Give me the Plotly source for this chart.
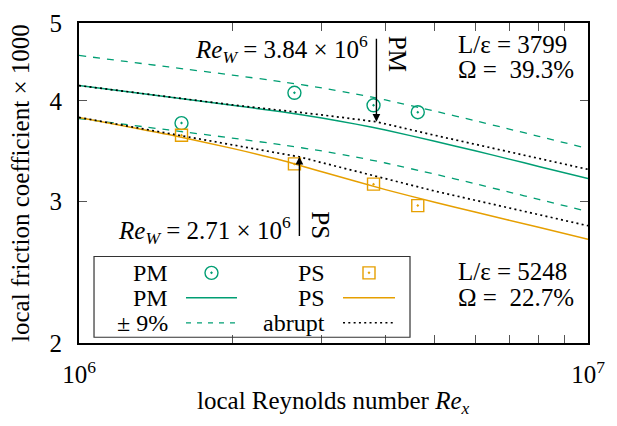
import math
import plotly.graph_objects as go

# ---- data -------------------------------------------------------------
# measured local skin friction (x1000) at four stations
re_meas = [1.59e6, 2.65e6, 3.79e6, 4.63e6]
cf_pm_meas = [3.754, 4.094, 3.950, 3.873]
cf_ps_meas = [3.626, 3.340, 3.152, 2.964]

# transitional-roughness model, PM side
re_pm_model = [1.0e6, 1.5e6, 2.0e6, 2.5e6, 3.0e6, 3.5e6, 4.0e6, 5.0e6, 6.0e6, 7.0e6, 8.0e6, 1.0e7]
cf_pm_model = [4.180, 4.045, 3.952, 3.877, 3.809, 3.743, 3.680, 3.564, 3.468, 3.386, 3.316, 3.202]

# transitional-roughness model, PS side
re_ps_model = [1.0e6, 1.5e6, 2.0e6, 2.5e6, 3.0e6, 4.0e6, 5.0e6, 6.0e6, 8.0e6, 1.0e7]
cf_ps_model = [3.816, 3.633, 3.492, 3.375, 3.266, 3.103, 2.993, 2.910, 2.786, 2.692]

# abrupt-transition model (kink at the wall Reynolds number)
re_pm_abrupt = [1.0e6, 1.5e6, 2.0e6, 3.0e6, 3.84e6, 5.0e6, 6.0e6, 8.0e6, 1.0e7]
cf_pm_abrupt = [4.180, 4.045, 3.955, 3.843, 3.768, 3.625, 3.534, 3.397, 3.288]
re_ps_abrupt = [1.0e6, 1.5e6, 2.0e6, 2.71e6, 3.0e6, 4.0e6, 5.0e6, 6.0e6, 8.0e6, 1.0e7]
cf_ps_abrupt = [3.816, 3.643, 3.528, 3.408, 3.352, 3.200, 3.090, 3.010, 2.889, 2.798]

band = 0.09  # +/- 9 % band around the PM model
re_w_pm, cf_w_pm = 3.84e6, 3.768
re_w_ps, cf_w_ps = 2.71e6, 3.408

x_ticks = [1e6 * k for k in range(1, 11)]
x_ticktext = ["10<sup>6</sup>"] + [""] * 8 + ["10<sup>7</sup>"]
y_ticks = [2, 3, 4, 5]

GREEN = "#009e73"
ORANGE = "#e69f00"
FONT = "Liberation Serif"
FS = 25
DASH = "7px,7px"
DOT = "2px,3.3px"

fig = go.Figure()

# +/- 9 % band
for fac in (1 + band, 1 - band):
    fig.add_trace(go.Scatter(x=re_pm_model, y=[c * fac for c in cf_pm_model], mode="lines",
                             line=dict(color=GREEN, width=1.3, dash=DASH,
                                       shape="spline", smoothing=0.6)))
# model curves
fig.add_trace(go.Scatter(x=re_pm_model, y=cf_pm_model, mode="lines",
                         line=dict(color=GREEN, width=1.5, shape="spline", smoothing=0.6)))
fig.add_trace(go.Scatter(x=re_ps_model, y=cf_ps_model, mode="lines",
                         line=dict(color=ORANGE, width=1.5, shape="spline", smoothing=0.6)))
# abrupt transition
for rx, cy in ((re_pm_abrupt, cf_pm_abrupt), (re_ps_abrupt, cf_ps_abrupt)):
    fig.add_trace(go.Scatter(x=rx, y=cy, mode="lines",
                             line=dict(color="black", width=1.7, dash=DOT)))
# measurements
fig.add_trace(go.Scatter(x=re_meas, y=cf_pm_meas, mode="markers",
                         marker=dict(symbol="circle-open-dot", size=13, color=GREEN,
                                     line=dict(color=GREEN, width=1.4))))
fig.add_trace(go.Scatter(x=re_meas, y=cf_ps_meas, mode="markers",
                         marker=dict(symbol="square-open-dot", size=12, color=ORANGE,
                                     line=dict(color=ORANGE, width=1.4))))

# ---- key (drawn on an overlay unit axis) -----------------------------
kx1 = [0.2102, 0.3104]
kx2 = [0.5187, 0.6208]
ky = [0.2192, 0.1411, 0.0631]
fig.add_trace(go.Scatter(x=[sum(kx1) / 2], y=[ky[0]], xaxis="x2", yaxis="y2", mode="markers",
                         marker=dict(symbol="circle-open-dot", size=13, color=GREEN,
                                     line=dict(color=GREEN, width=1.4))))
fig.add_trace(go.Scatter(x=kx1, y=[ky[1]] * 2, xaxis="x2", yaxis="y2", mode="lines",
                         line=dict(color=GREEN, width=1.5)))
fig.add_trace(go.Scatter(x=kx1, y=[ky[2]] * 2, xaxis="x2", yaxis="y2", mode="lines",
                         line=dict(color=GREEN, width=1.3, dash="5px,6px")))
fig.add_trace(go.Scatter(x=[sum(kx2) / 2], y=[ky[0]], xaxis="x2", yaxis="y2", mode="markers",
                         marker=dict(symbol="square-open-dot", size=12, color=ORANGE,
                                     line=dict(color=ORANGE, width=1.4))))
fig.add_trace(go.Scatter(x=kx2, y=[ky[1]] * 2, xaxis="x2", yaxis="y2", mode="lines",
                         line=dict(color=ORANGE, width=1.5)))
fig.add_trace(go.Scatter(x=kx2, y=[ky[2]] * 2, xaxis="x2", yaxis="y2", mode="lines",
                         line=dict(color="black", width=1.5, dash=DOT)))

fig.add_shape(type="rect", xref="paper", yref="paper", x0=0.0295, x1=0.6503, y0=0.018, y1=0.2703,
              line=dict(color="#333333", width=1.2), fillcolor="rgba(0,0,0,0)")

ann = []


def txt(x, y, s, xanchor="left", angle=0, size=FS):
    ann.append(dict(x=x, y=y, xref="paper", yref="paper", text=s, showarrow=False,
                    xanchor=xanchor, yanchor="middle", textangle=angle,
                    font=dict(family=FONT, size=size, color="black")))


for row, (a, b) in enumerate((("PM", "PS"), ("PM", "PS"), ("± 9%", "abrupt"))):
    txt(0.1788, ky[row], a, "right", size=24)
    txt(0.4872, ky[row], b, "right", size=24)

txt(0.5717, 0.919, "<i>Re</i><sub><i>W</i></sub> = 3.84 × 10<sup>6</sup>", "right")
txt(0.4198, 0.3544, "<i>Re</i><sub><i>W</i></sub> = 2.71 × 10<sup>6</sup>", "right")
txt(0.6257, 0.9024, "PM", "center", 90)
txt(0.4754, 0.3679, "PS", "center", 90)
txt(0.7407, 0.934, "L/ε = 3799")
txt(0.7407, 0.8559, "Ω =  39.3%")
txt(0.7407, 0.2222, "L/ε = 5248")
txt(0.7407, 0.1411, "Ω =  22.7%")

# arrows marking the wall Reynolds numbers
for rw, tip, tail in ((re_w_pm, cf_w_pm, 4.80), (re_w_ps, cf_w_ps, 2.706)):
    ann.append(dict(x=math.log10(rw), y=math.log10(tip), xref="x", yref="y",
                    ax=math.log10(rw), ay=math.log10(tail), axref="x", ayref="y",
                    text="", showarrow=True, arrowhead=2, arrowsize=1.1, arrowwidth=1.4,
                    arrowcolor="black", standoff=0))

# axis titles
ann.append(dict(x=0.5, y=-0.185, xref="paper", yref="paper", showarrow=False,
                text="local Reynolds number <i>Re</i><sub><i>x</i></sub>",
                xanchor="center", yanchor="middle", font=dict(family=FONT, size=FS, color="black")))
ann.append(dict(x=-0.116, y=0.5, xref="paper", yref="paper", showarrow=False, textangle=-90,
                text="local friction coefficient × 1000",
                xanchor="center", yanchor="middle", font=dict(family=FONT, size=FS, color="black")))

fig.update_layout(
    width=617, height=426,
    margin=dict(l=79, r=29, t=10, b=83),
    paper_bgcolor="white", plot_bgcolor="white",
    showlegend=False,
    font=dict(family=FONT, size=FS, color="black"),
    annotations=ann,
    xaxis=dict(type="log", range=[6, 7], tickvals=x_ticks, ticktext=x_ticktext,
               ticks="inside", ticklen=8, tickwidth=1.3, tickcolor="#555555",
               showline=True, linecolor="black", linewidth=2, mirror="ticks",
               showgrid=False, zeroline=False, ticklabelstandoff=8,
               ticklabeloverflow="allow"),
    yaxis=dict(type="log", range=[math.log10(2), math.log10(5)], tickvals=y_ticks,
               ticks="inside", ticklen=8, tickwidth=1.3, tickcolor="#555555",
               showline=True, linecolor="black", linewidth=2, mirror="ticks",
               showgrid=False, zeroline=False, ticklabelstandoff=10,
               ticklabeloverflow="allow"),
    xaxis2=dict(overlaying="x", range=[0, 1], visible=False, fixedrange=True),
    yaxis2=dict(overlaying="y", range=[0, 1], visible=False, fixedrange=True),
)

fig.write_html("out.html")
